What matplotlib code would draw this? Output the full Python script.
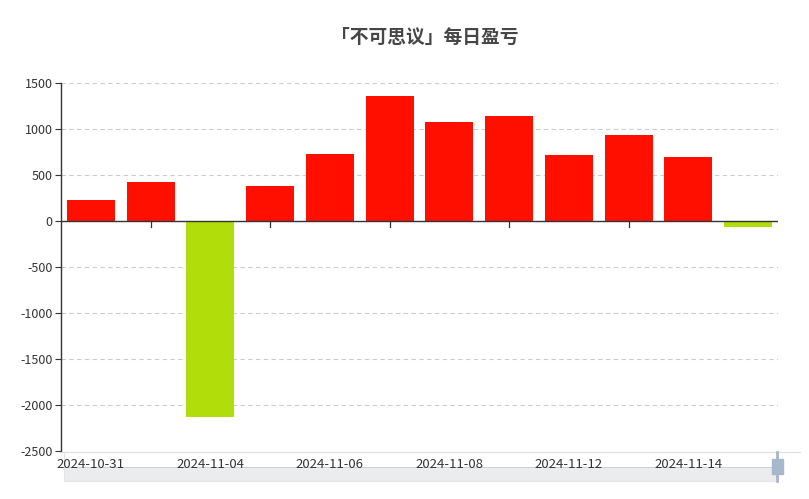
import matplotlib
matplotlib.use("Agg")
import matplotlib.pyplot as plt
from matplotlib.patches import Rectangle
import numpy as np

plt.rcParams['font.family'] = ['Noto Sans CJK SC', 'DejaVu Sans']

dates = ["2024-10-31", "2024-11-01", "2024-11-04", "2024-11-05", "2024-11-06", "2024-11-07",
         "2024-11-08", "2024-11-11", "2024-11-12", "2024-11-13", "2024-11-14", "2024-11-15"]
pnl = [228, 422, -2130, 380, 725, 1355, 1075, 1140, 718, 932, 695, -65]
title = "「不可思议」每日盈亏"
yticks = [1500, 1000, 500, 0, -500, -1000, -1500, -2000, -2500]

W, H = 809, 499
fig = plt.figure(figsize=(W / 100, H / 100), dpi=100)
L, R, T, B = 61, 778, 83, 451
ax = fig.add_axes([L / W, 1 - B / H, (R - L) / W, (B - T) / H])

x = np.arange(len(pnl))
colors = ['#ff0f00' if v >= 0 else '#b1de0a' for v in pnl]
ax.bar(x, pnl, width=0.8, color=colors, zorder=3)

ax.set_xlim(-0.5, len(pnl) - 0.5)
ax.set_ylim(-2500, 1500)
ax.set_yticks(yticks)
ax.set_yticklabels([str(v) for v in yticks], fontsize=9, color='#333333')
ax.tick_params(axis='y', length=4, width=0.8, color='#333333', pad=2)

for v in yticks:
    if v == 0:
        continue
    ax.axhline(v, color='#cccccc', lw=0.8, ls=(0, (4, 3)), zorder=1)
ax.axhline(0, color='#333333', lw=1.0, zorder=4)

for s in ['top', 'right', 'bottom']:
    ax.spines[s].set_visible(False)
ax.spines['left'].set_color('#333333')
ax.spines['left'].set_linewidth(1.0)

ax.set_xticks([])
# ticks on zero line at odd indices
for i in range(1, len(pnl) - 1, 2):
    ax.plot([i, i], [0, -60], color='#333333', lw=0.9, zorder=4, clip_on=False)

# dataZoom slider
sx0, sx1, sy0, sy1 = 64, 778, 452, 481
fig.patches.append(Rectangle((sx0 / W, 1 - sy1 / H), (sx1 - sx0) / W, (sy1 - 467) / H,
                             transform=fig.transFigure, facecolor='#ebecee',
                             edgecolor='none', zorder=0))
fig.patches.append(Rectangle((sx0 / W, 1 - sy1 / H), (sx1 - sx0) / W, (sy1 - sy0) / H,
                             transform=fig.transFigure, facecolor='none',
                             edgecolor='#e3e5e8', lw=0.8, zorder=0))
fig.add_artist(plt.Line2D([sx0 / W, sx1 / W], [1 - 466.5 / H, 1 - 466.5 / H],
                          transform=fig.transFigure, color='#cfd1d4', lw=0.7))
fig.add_artist(plt.Line2D([L / W, 800 / W], [1 - 452 / H, 1 - 452 / H],
                          transform=fig.transFigure, color='#dcdfe3', lw=0.8))
fig.add_artist(plt.Line2D([777 / W, 777 / W], [1 - 452 / H, 1 - 481 / H],
                          transform=fig.transFigure, color='#a7b7cc', lw=2.0))
fig.patches.append(Rectangle((772 / W, 1 - 474 / H), 11 / W, 15 / H,
                             transform=fig.transFigure, facecolor='#a7b7cc',
                             edgecolor='#a7b7cc', zorder=2))

# date labels every other bar
for i in range(0, len(dates), 2):
    xf = (L + (i + 0.5) * (R - L) / len(dates)) / W
    fig.text(xf, 1 - 465 / H, dates[i], ha='center', va='center', fontsize=9.5,
             color='#333333')

fig.text(425 / W, 1 - 37 / H, title, ha='center', va='center', fontsize=13.5,
         fontweight='bold', color='#464646')

fig.savefig('out.png', dpi=100)
